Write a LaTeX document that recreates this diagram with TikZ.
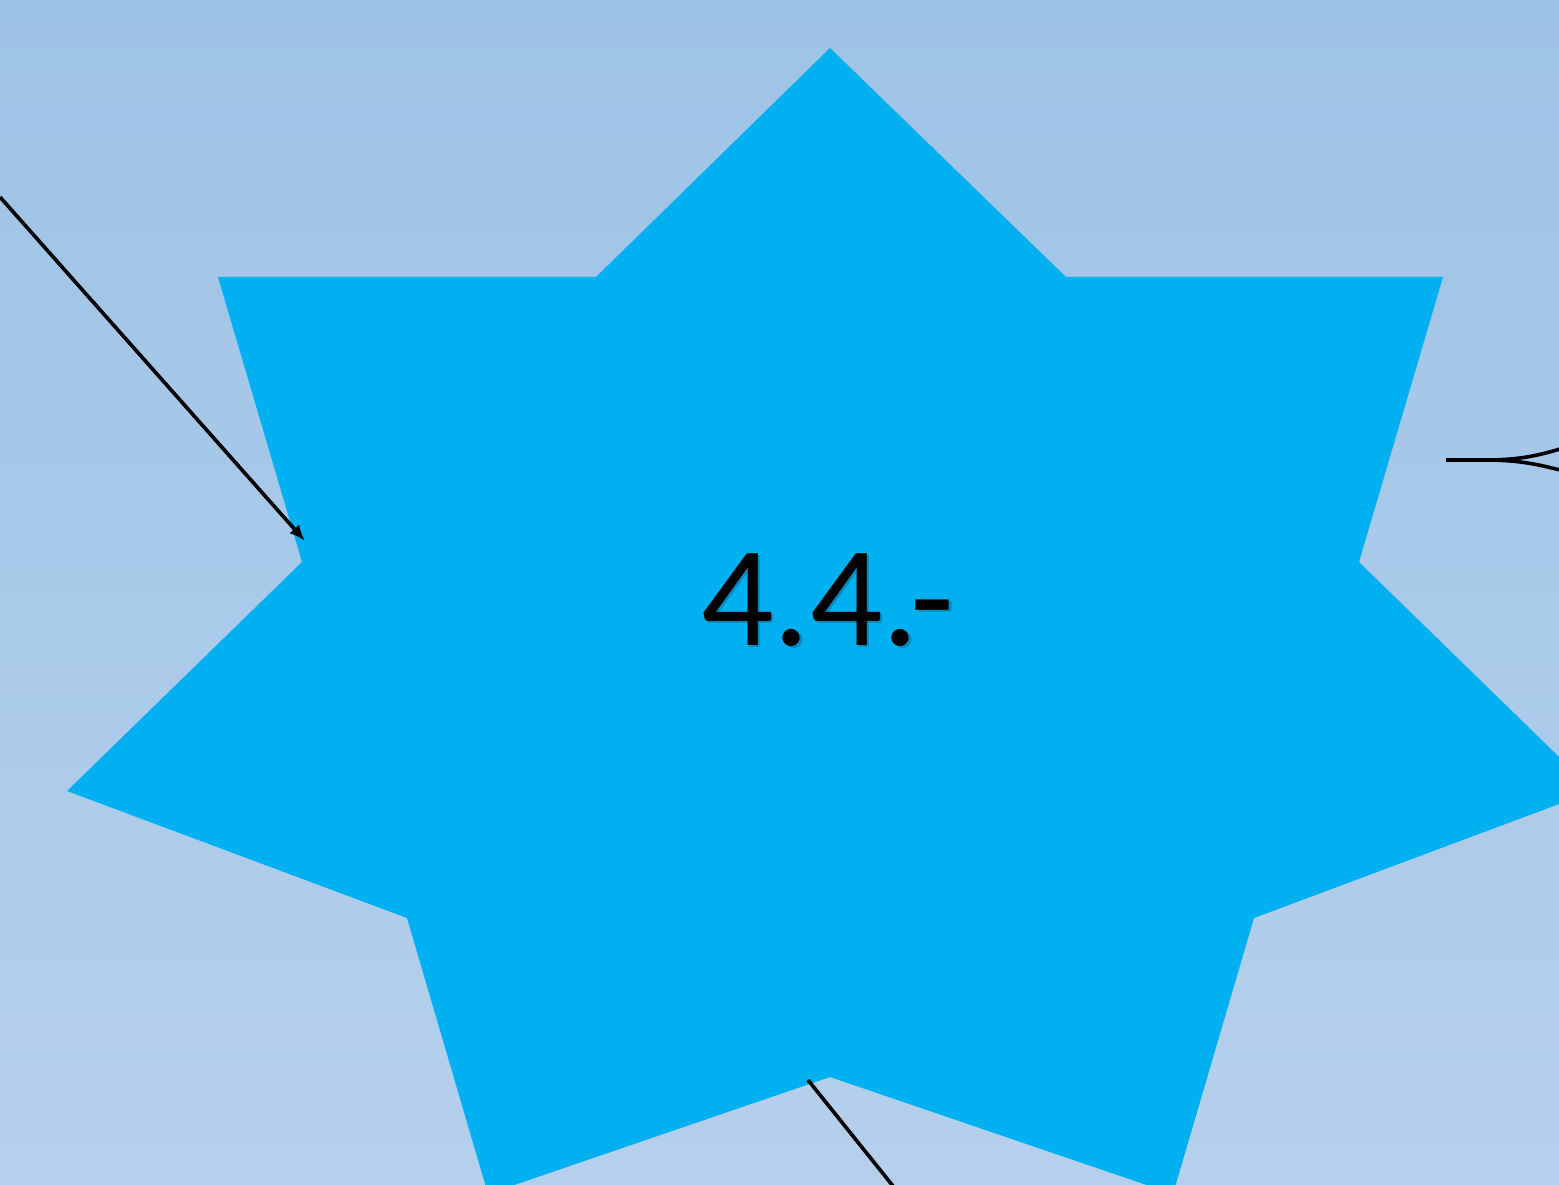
\documentclass[tikz,border=0pt]{standalone}
\usepackage{fontspec}
\setmainfont{Carlito}
\usepackage{xcolor}
\usetikzlibrary{positioning,arrows.meta}
\definecolor{bgtop}{RGB}{157,195,230}
\definecolor{bgbot}{RGB}{181,208,236}
\definecolor{starblue}{RGB}{0,176,240}

\begin{document}
\begin{tikzpicture}[
  x=1pt, y=-1pt,
  bigstar/.style={fill=starblue, draw=none},
  label44/.style={font=\fontsize{143}{150}\selectfont, text=black, inner sep=0pt},
  shadow44/.style={label44, text=starblue!55!black, opacity=0.45},
  arr/.style={-{Latex[length=16pt, width=13pt]}, line width=3.6pt},
  link/.style={line width=3.6pt}
]
\useasboundingbox (0,0) rectangle (1559,1185);
\clip (0,0) rectangle (1559,1185);
\shade[top color=bgtop, bottom color=bgbot] (0,0) rectangle (1559,1185);

% seven pointed star
\fill[bigstar] (830,48) -- (1066,277) -- (1443,277) -- (1359,562) -- (1594,791)
  -- (1254,918) -- (1173,1194) -- (830,1077) -- (488,1194) -- (407,918)
  -- (67,791) -- (302,562) -- (218,277) -- (596,277) -- cycle;

\node[shadow44] (numshadow) at (830.5,602.5) {4.4.-};
\node[label44] (num) at (828,600) {4.4.-};

% connectors
\coordinate (inleft) at (0,197);
\coordinate (starleft) at (305,541);
\coordinate (starright) at (1446,460);
\coordinate (outup) at (1560,449);
\coordinate (outdown) at (1560,470);
\coordinate (starbottom) at (808,1080);
\coordinate (outbottom) at (893,1186);

\draw[arr] (inleft) -- (starleft);
\draw[link] (starright) -- ++(40,0) .. controls (1520,460) and (1540,455) .. (outup);
\draw[link] (starright) -- ++(40,0) .. controls (1520,460) and (1540,465) .. (outdown);
\draw[link] (starbottom) -- (outbottom);
\end{tikzpicture}
\end{document}
